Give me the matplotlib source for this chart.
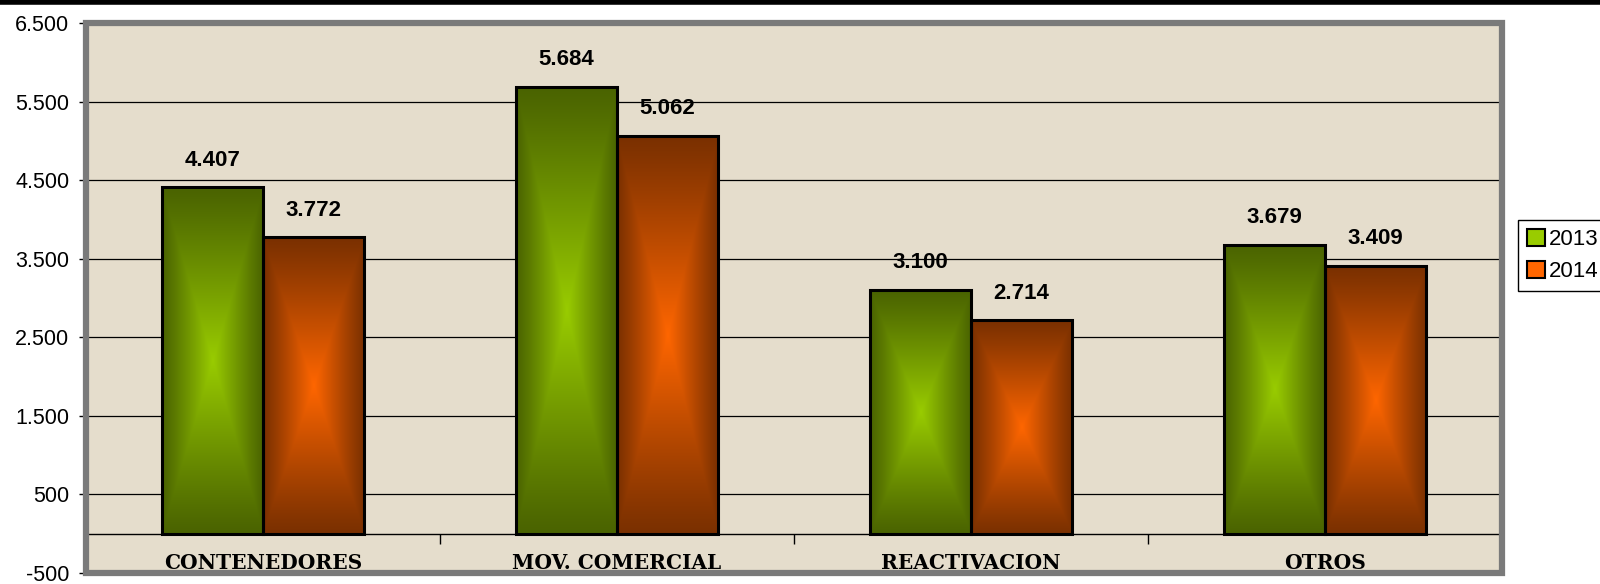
import numpy as np
import matplotlib.pyplot as plt
from matplotlib.patches import Rectangle, Patch
from matplotlib.lines import Line2D
from matplotlib.ticker import FuncFormatter

# chart values
categories = ['CONTENEDORES', 'MOV. COMERCIAL', 'REACTIVACION', 'OTROS']
series_names = ['2013', '2014']
values_2013 = [4407, 5684, 3100, 3679]
values_2014 = [3772, 5062, 2714, 3409]
yticks = [-500, 500, 1500, 2500, 3500, 4500, 5500, 6500]

bright = {'2013': np.array([0x99, 0xCC, 0x00]) / 255., '2014': np.array([0xFF, 0x66, 0x00]) / 255.}
dark = {'2013': np.array([0x4A, 0x63, 0x00]) / 255., '2014': np.array([0x7A, 0x30, 0x00]) / 255.}

def num_fmt(v):
  return '{:,.0f}'.format(v).replace(',', '.')

# gradient image "from center" like the old excel fills
def grad_image(c_dark, c_bright, n=200):
  u = np.linspace(-1, 1, n)
  U, V = np.meshgrid(u, u)
  s = np.maximum(np.abs(U), np.abs(V))
  t = (1 - s) ** 1.1
  img = c_dark[None, None, :] + (c_bright - c_dark)[None, None, :] * t[:, :, None]
  return img

fig = plt.figure(figsize=(16, 5.84), dpi=100)
ax = fig.add_axes([86/1600, 1-573/584, (1502-86)/1600, (573-23)/584])
ax.set_facecolor('#E5DDCC')

x = np.arange(len(categories))
w = 0.286

# grid lines
for yv in yticks[1:-1]:
  ax.axhline(yv, color='black', lw=0.9, zorder=1)

for k, (name, vals) in enumerate(zip(series_names, [values_2013, values_2014])):
  xs = x + (k - 0.5) * w
  bars = ax.bar(xs, vals, width=w, color='none', edgecolor='black', linewidth=2.2, zorder=4)
  img = grad_image(dark[name], bright[name])
  for b, v in zip(bars, vals):
    bx, by = b.get_x(), b.get_y()
    im = ax.imshow(img, extent=[bx, bx + b.get_width(), by, by + b.get_height()],
                   aspect='auto', zorder=3, interpolation='bilinear')
    im.set_clip_path(b)
    ax.annotate(num_fmt(v), xy=(b.get_x() + b.get_width()/2, v), xytext=(0, 12),
                textcoords='offset points', ha='center', va='bottom',
                fontsize=16, fontweight='bold', family='Liberation Sans', zorder=6)

ax.set_xlim(-0.5, len(categories) - 0.5)
ax.set_ylim(-500, 6500)

# category names inside the plot at the bottom
for xi, c in zip(x, categories):
  ax.text(xi, -455, c, ha='center', va='baseline', fontsize=14.5, fontweight='bold',
          family='DejaVu Serif', zorder=8)

# axes styling
for sp in ['left', 'right', 'top']:
  ax.spines[sp].set_visible(False)
ax.spines['bottom'].set_position(('data', 0))
ax.spines['bottom'].set_linewidth(1.0)
ax.spines['bottom'].set_zorder(5)
ax.set_xticks(np.arange(len(categories) + 1) - 0.5)
ax.set_xticklabels([])
ax.tick_params(axis='x', direction='out', length=7, width=1)
ax.set_yticks(yticks)
ax.yaxis.set_major_formatter(FuncFormatter(lambda v, p: num_fmt(v)))
ax.tick_params(axis='y', direction='out', length=5, width=1, pad=7, labelsize=15.5)
for lab in ax.get_yticklabels():
  lab.set_family('Liberation Sans')

# gray frame around the plot area
ax.add_patch(Rectangle((0, 0), 1, 1, transform=ax.transAxes, fill=False,
                       edgecolor='#7A7A7A', lw=4.5, clip_on=False, zorder=7))

# thick black line at the very top
fig.add_artist(Line2D([0, 1], [1 - 2/584, 1 - 2/584], transform=fig.transFigure,
                      color='black', lw=4))

handles = [Patch(facecolor=bright[n], edgecolor='black', lw=1.5) for n in series_names]
leg = fig.legend(handles, series_names, loc='upper left', bbox_to_anchor=(1518/1600, 1-220/584),
                 borderaxespad=0, fancybox=False, edgecolor='black', framealpha=1,
                 prop={'family': 'Liberation Sans', 'size': 16}, handlelength=0.8,
                 handleheight=0.8, handletextpad=0.2, borderpad=0.4, labelspacing=0.5)
leg.get_frame().set_linewidth(1.0)

fig.savefig('out.png', dpi=100)
